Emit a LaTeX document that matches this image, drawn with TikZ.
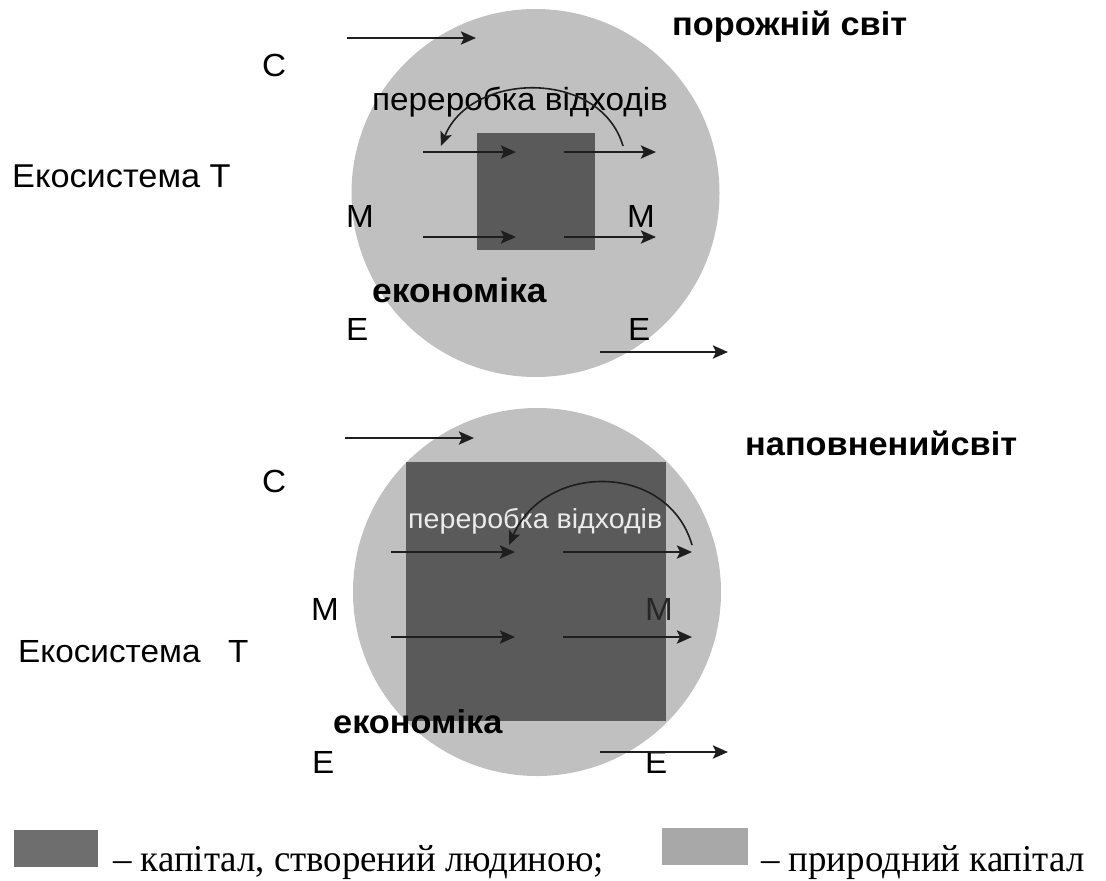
\documentclass[tikz,border=0pt]{standalone}
\usepackage{fontspec}
\setmainfont[FakeStretch=1.04]{Liberation Sans}
\newfontfamily\serifleg[FakeStretch=0.97]{Liberation Serif}
\usetikzlibrary{arrows.meta}
\definecolor{natcap}{HTML}{C0C0C0}
\definecolor{mancap}{HTML}{5A5A5A}
\definecolor{legdark}{HTML}{6E6E6E}
\definecolor{leglight}{HTML}{A8A8A8}
\definecolor{arr}{HTML}{1E1E1E}
\tikzset{
  flow/.style={draw=arr, line width=2.6pt, -{Stealth[length=15pt,width=13pt,inset=3pt]}},
  loop/.style={draw=arr, line width=1.6pt, -{Stealth[length=14pt,width=12pt,inset=3pt]}},
  lbl/.style={anchor=base west, inner sep=0pt, font=\fontsize{32}{32}\selectfont},
  blbl/.style={anchor=base west, inner sep=0pt, font=\fontsize{33}{33}\selectfont\bfseries},
  wlbl/.style={anchor=base west, inner sep=0pt, font=\fontsize{27.5}{28}\selectfont},
  legtxt/.style={anchor=base west, inner sep=0pt, font=\fontsize{38}{38}\selectfont\serifleg},
}
\begin{document}
\begin{tikzpicture}[x=1pt,y=-1pt]
\useasboundingbox (0,0) rectangle (1106,881);
% ---------- top: empty world ----------
\fill[natcap] (535.5,193) circle (184);
\fill[mancap] (477,133) rectangle (595,250);
\node[lbl] (c1) at (262,76) {C};
\node[blbl] (t1) at (672,35) {порожній світ};
\node[lbl, font=\fontsize{33}{33}\selectfont] (eco1) at (12,187) {Екосистема Т};
\node[lbl] (rec1) at (372,110) {переробка відходів};
\node[lbl] (ml1) at (346,227) {M};
\node[lbl] (mr1) at (627,227) {M};
\node[blbl, font=\fontsize{34}{34}\selectfont\bfseries] (ec1) at (372,302) {економіка};
\node[lbl] (el1) at (346,340) {E};
\node[lbl] (er1) at (628,340) {E};
\coordinate (a1s) at (347,38);  \coordinate (a1e) at (476,38);
\coordinate (b1s) at (423,152); \coordinate (b1e) at (516,152);
\coordinate (b2s) at (564,152); \coordinate (b2e) at (656,152);
\coordinate (b3s) at (423,237); \coordinate (b3e) at (516,237);
\coordinate (b4s) at (564,237); \coordinate (b4e) at (656,237);
\coordinate (d1s) at (600,352); \coordinate (d1e) at (728,352);
\coordinate (r1s) at (623,146); \coordinate (r1e) at (441,146);
\draw[flow] (a1s) -- (a1e);
\draw[flow] (b1s) -- (b1e);
\draw[flow] (b2s) -- (b2e);
\draw[flow] (b3s) -- (b3e);
\draw[flow] (b4s) -- (b4e);
\draw[flow] (d1s) -- (d1e);
\draw[loop] (r1s) .. controls (600,68) and (470,72) .. (r1e);
% ---------- bottom: full world ----------
\fill[natcap] (537,592) circle (184);
\fill[mancap] (406,462) rectangle (666,721);
\node[lbl] (c2) at (262,492) {C};
\node[blbl] (t2) at (745,455) {наповненийсвіт};
\node[lbl] (eco2) at (18,662) {Екосистема\ \ \ Т};
\node[wlbl, text=white!92!black] (rec2) at (408,528) {переробка відходів};
\node[lbl] (ml2) at (311,620) {M};
\node[lbl, text=black!85] (mr2) at (645,620) {M};
\node[blbl] (ec2) at (333,733) {економіка};
\node[lbl] (el2) at (312,773) {E};
\node[lbl] (er2) at (645,773) {E};
\coordinate (a2s) at (345,438);  \coordinate (a2e) at (474,438);
\coordinate (g1s) at (391,552); \coordinate (g1e) at (515,552);
\coordinate (g2s) at (563,552); \coordinate (g2e) at (692,552);
\coordinate (g3s) at (391,637); \coordinate (g3e) at (515,637);
\coordinate (g4s) at (563,637); \coordinate (g4e) at (692,637);
\coordinate (d2s) at (600,752); \coordinate (d2e) at (728,752);
\coordinate (r2s) at (692,545); \coordinate (r2e) at (509,545);
\draw[flow] (a2s) -- (a2e);
\draw[flow] (g1s) -- (g1e);
\draw[flow] (g2s) -- (g2e);
\draw[flow] (g3s) -- (g3e);
\draw[flow] (g4s) -- (g4e);
\draw[flow] (d2s) -- (d2e);
\draw[loop] (r2s) .. controls (668,462) and (545,462) .. (r2e);
% ---------- legend ----------
\fill[legdark] (14,830) rectangle (98,867);
\fill[leglight] (662,828) rectangle (748,865);
\node[legtxt] (lg1) at (113,871) {– капітал, створений людиною;};
\node[legtxt] (lg2) at (761,871) {– природний капітал};
\end{tikzpicture}
\end{document}
